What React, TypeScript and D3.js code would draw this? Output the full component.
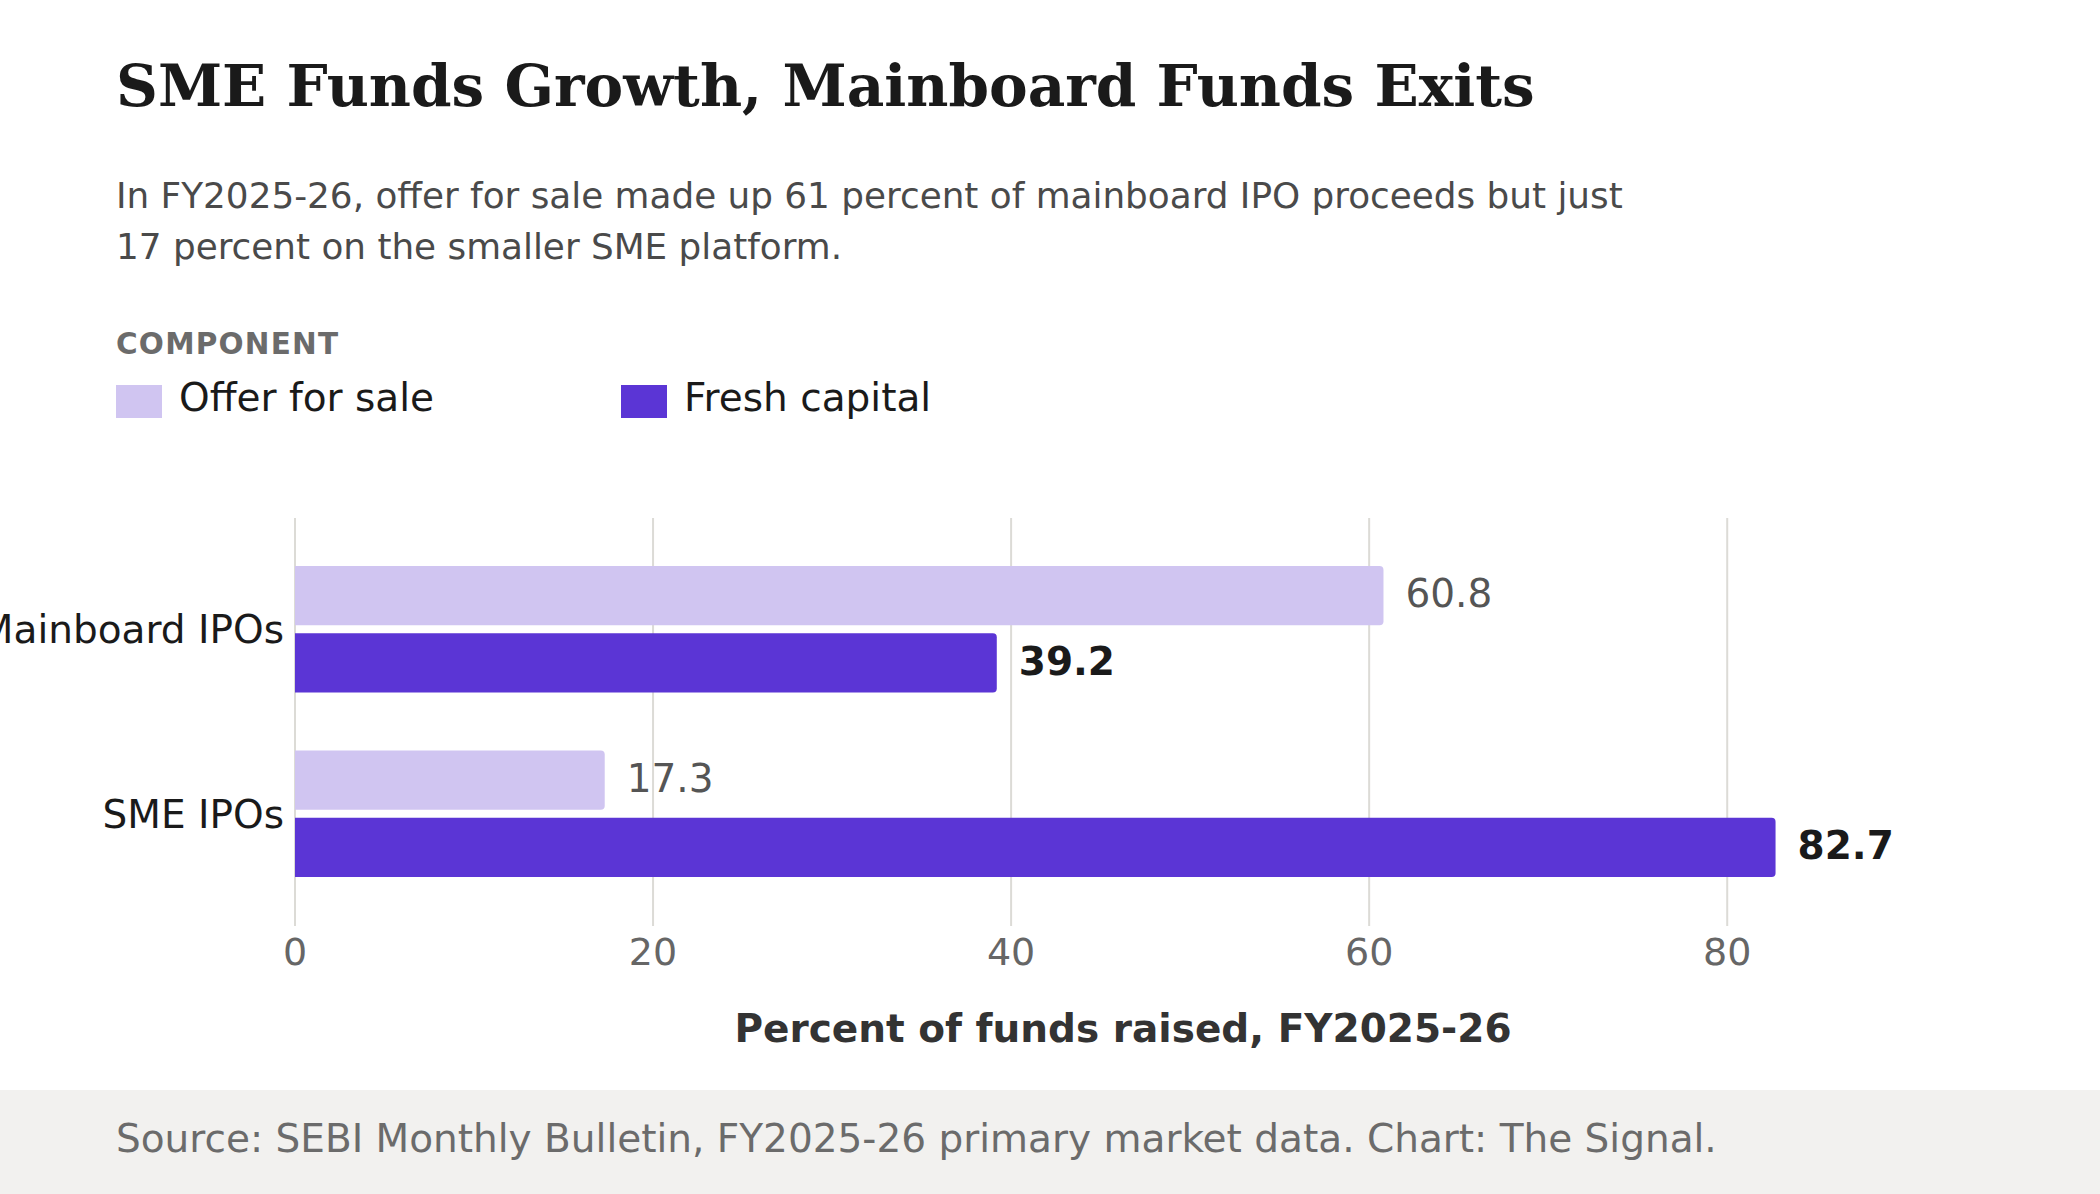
import React from 'react';
import * as d3 from 'd3';

const categories = ['Mainboard IPOs', 'SME IPOs'];
const components = ['Offer for sale', 'Fresh capital'];
const offerForSale = [60.8, 17.3];
const freshCapital = [39.2, 82.7];
const xTicks = [0, 20, 40, 60, 80];

const colors: Record<string, string> = {
  'Offer for sale': '#d0c5f1',
  'Fresh capital': '#5b35d5',
};

const W = 2100;
const H = 1194;
const SANS = '"DejaVu Sans", Verdana, sans-serif';
const SERIF = '"DejaVu Serif", Georgia, serif';

// right-rounded bar path
const barPath = (x0: number, x1: number, y: number, h: number, r: number) => {
  const rr = Math.min(r, (x1 - x0) / 2, h / 2);
  return `M${x0},${y}H${x1 - rr}Q${x1},${y} ${x1},${y + rr}V${y + h - rr}Q${x1},${y + h} ${x1 - rr},${y + h}H${x0}Z`;
};

export default function App() {
  const xScale = d3.scaleLinear().domain([0, 92.5]).range([295, 1951]);
  const yScale = d3
    .scaleBand<string>()
    .domain(categories)
    .range([518, 925])
    .paddingInner(0.315)
    .paddingOuter(0.26);
  const ySub = d3
    .scaleBand<string>()
    .domain(components)
    .range([0, yScale.bandwidth()])
    .paddingInner(0.12);

  const rows = categories.map((c, i) => ({
    category: c,
    values: [
      { key: 'Offer for sale', value: offerForSale[i] },
      { key: 'Fresh capital', value: freshCapital[i] },
    ],
  }));

  const [r0, r1] = xScale.range();

  return (
    <svg width={W} height={H} style={{ display: 'block', position: 'absolute', left: 0, top: 0 }}>
      <rect width={W} height={H} fill="#ffffff" />

      {/* heading */}
      <text x={116} y={106} fontFamily={SERIF} fontWeight={700} fontSize={58} fill="#1a1a1a">
        SME Funds Growth, Mainboard Funds Exits
      </text>
      <text fontFamily={SANS} fontSize={35.8} fill="#4a4a4a">
        <tspan x={116} y={208}>In FY2025-26, offer for sale made up 61 percent of mainboard IPO proceeds but just</tspan>
        <tspan x={116} y={259}>17 percent on the smaller SME platform.</tspan>
      </text>

      {/* legend */}
      <text x={116} y={354} fontFamily={SANS} fontWeight={700} fontSize={29.5} letterSpacing={1.2} fill="#6b6b6b">
        COMPONENT
      </text>
      {components.map((k, i) => {
        const lx = 116 + i * 505;
        return (
          <g key={k}>
            <rect x={lx} y={385} width={46} height={33} fill={colors[k]} />
            <text x={lx + 63} y={411} fontFamily={SANS} fontSize={39} fill="#1a1a1a">
              {k}
            </text>
          </g>
        );
      })}

      {/* grid */}
      {xTicks.map((t) => (
        <g key={t}>
          <line
            x1={xScale(t)}
            x2={xScale(t)}
            y1={518}
            y2={926}
            stroke="#dcdbd6"
            strokeWidth={2}
          />
          <text
            x={xScale(t)}
            y={965}
            textAnchor="middle"
            fontFamily={SANS}
            fontSize={38}
            fill="#666666"
          >
            {t}
          </text>
        </g>
      ))}

      {/* bars */}
      {rows.map((row) => {
        const gy = yScale(row.category) ?? 0;
        return (
          <g key={row.category}>
            <text
              x={284}
              y={gy + yScale.bandwidth() / 2}
              dy="0.36em"
              textAnchor="end"
              fontFamily={SANS}
              fontSize={39}
              fill="#1a1a1a"
            >
              {row.category}
            </text>
            {row.values.map((v) => {
              const by = gy + (ySub(v.key) ?? 0);
              const bh = ySub.bandwidth();
              const fresh = v.key === 'Fresh capital';
              return (
                <g key={v.key}>
                  <path d={barPath(xScale(0), xScale(v.value), by, bh, 4)} fill={colors[v.key]} />
                  <text
                    x={xScale(v.value) + 22}
                    y={by + bh / 2}
                    dy="0.3em"
                    fontFamily={SANS}
                    fontSize={39}
                    fontWeight={fresh ? 700 : 400}
                    fill={fresh ? '#1a1a1a' : '#555555'}
                  >
                    {v.value.toFixed(1)}
                  </text>
                </g>
              );
            })}
          </g>
        );
      })}

      {/* axis title */}
      <text
        x={(r0 + r1) / 2}
        y={1042}
        textAnchor="middle"
        fontFamily={SANS}
        fontWeight={700}
        fontSize={39}
        fill="#333333"
      >
        Percent of funds raised, FY2025-26
      </text>

      {/* footer */}
      <rect x={0} y={1090} width={W} height={H - 1090} fill="#f2f1ef" />
      <text x={116} y={1152} fontFamily={SANS} fontSize={39} fill="#6b6b6b">
        Source: SEBI Monthly Bulletin, FY2025-26 primary market data. Chart: The Signal.
      </text>
    </svg>
  );
}
